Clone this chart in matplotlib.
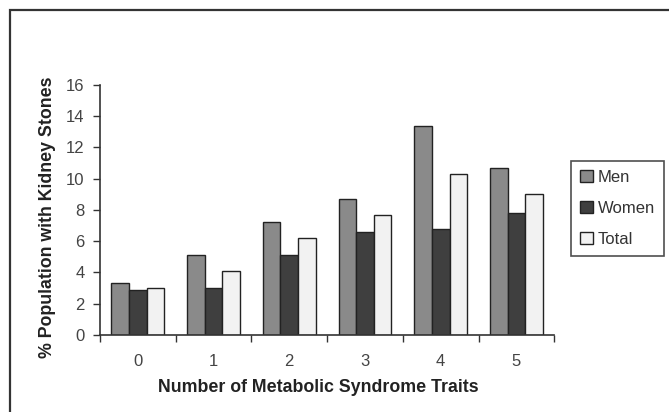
"""Kidney stone prevalence by number of metabolic syndrome traits."""

import matplotlib
matplotlib.use("Agg")
import matplotlib.pyplot as plt
import numpy as np
from matplotlib.patches import Rectangle

plt.rcParams["font.family"] = ["Liberation Sans", "DejaVu Sans"]

# Data
traits = ["0", "1", "2", "3", "4", "5"]
men = [3.3, 5.1, 7.2, 8.7, 13.4, 10.7]
women = [2.9, 3.0, 5.1, 6.6, 6.8, 7.8]
total = [3.0, 4.1, 6.2, 7.7, 10.3, 9.0]

series = [("Men", men, "#8a8a8a"), ("Women", women, "#3f3f3f"), ("Total", total, "#f2f2f2")]

fig = plt.figure(figsize=(6.69, 4.12), dpi=100)
ax = fig.add_axes([0.1495, 0.187, 0.679, 0.607])

# Frame around the picture (only top and left edges show)
fig.patches.append(Rectangle((10 / 669, -0.1), 1.2, 1.1 - 10 / 412,
                             transform=fig.transFigure, fill=False,
                             edgecolor="#333333", linewidth=1.6))

x = np.arange(len(traits))
w = 0.233
for i, (name, vals, col) in enumerate(series):
    ax.bar(x + (i - 1) * w, vals, width=w, color=col, edgecolor="#222222",
           linewidth=1.0, label=name)

ax.set_xlim(-0.5, len(traits) - 0.5)
ax.set_ylim(0, 16)
ax.set_yticks(range(0, 17, 2))
ax.set_xticks(x)
ax.set_xticklabels(traits)
ax.set_xticks(np.arange(-0.5, len(traits), 1.0), minor=True)
ax.tick_params(axis="x", which="major", length=0, pad=14)
ax.tick_params(axis="x", which="minor", length=5, width=1, direction="out", color="#333333")
ax.tick_params(axis="y", length=5, width=1, direction="out", color="#333333", pad=6)
ax.tick_params(labelsize=12, labelcolor="#444444")

for s in ("top", "right"):
    ax.spines[s].set_visible(False)
for s in ("left", "bottom"):
    ax.spines[s].set_color("#333333")
    ax.spines[s].set_linewidth(1.2)

fig.text(318.5 / 669, 1 - 388 / 412, "Number of Metabolic Syndrome Traits",
         fontsize=12.8, fontweight="bold", color="#222222", ha="center", va="center")
fig.text(48 / 669, 1 - 217 / 412, "% Population with Kidney Stones",
         fontsize=12.8, fontweight="bold", color="#222222", ha="center", va="center",
         rotation=90)

leg = fig.legend(loc="upper left", bbox_to_anchor=(571 / 669, 1 - 161 / 412),
                 frameon=True, fancybox=False, fontsize=12, handlelength=0.75,
                 handleheight=0.75, handletextpad=0.3, borderpad=0.55,
                 labelspacing=0.95, borderaxespad=0)
leg.get_frame().set_edgecolor("#222222")
leg.get_frame().set_linewidth(1.2)
for t in leg.get_texts():
    t.set_color("#333333")

fig.savefig("out.png", dpi=100)
